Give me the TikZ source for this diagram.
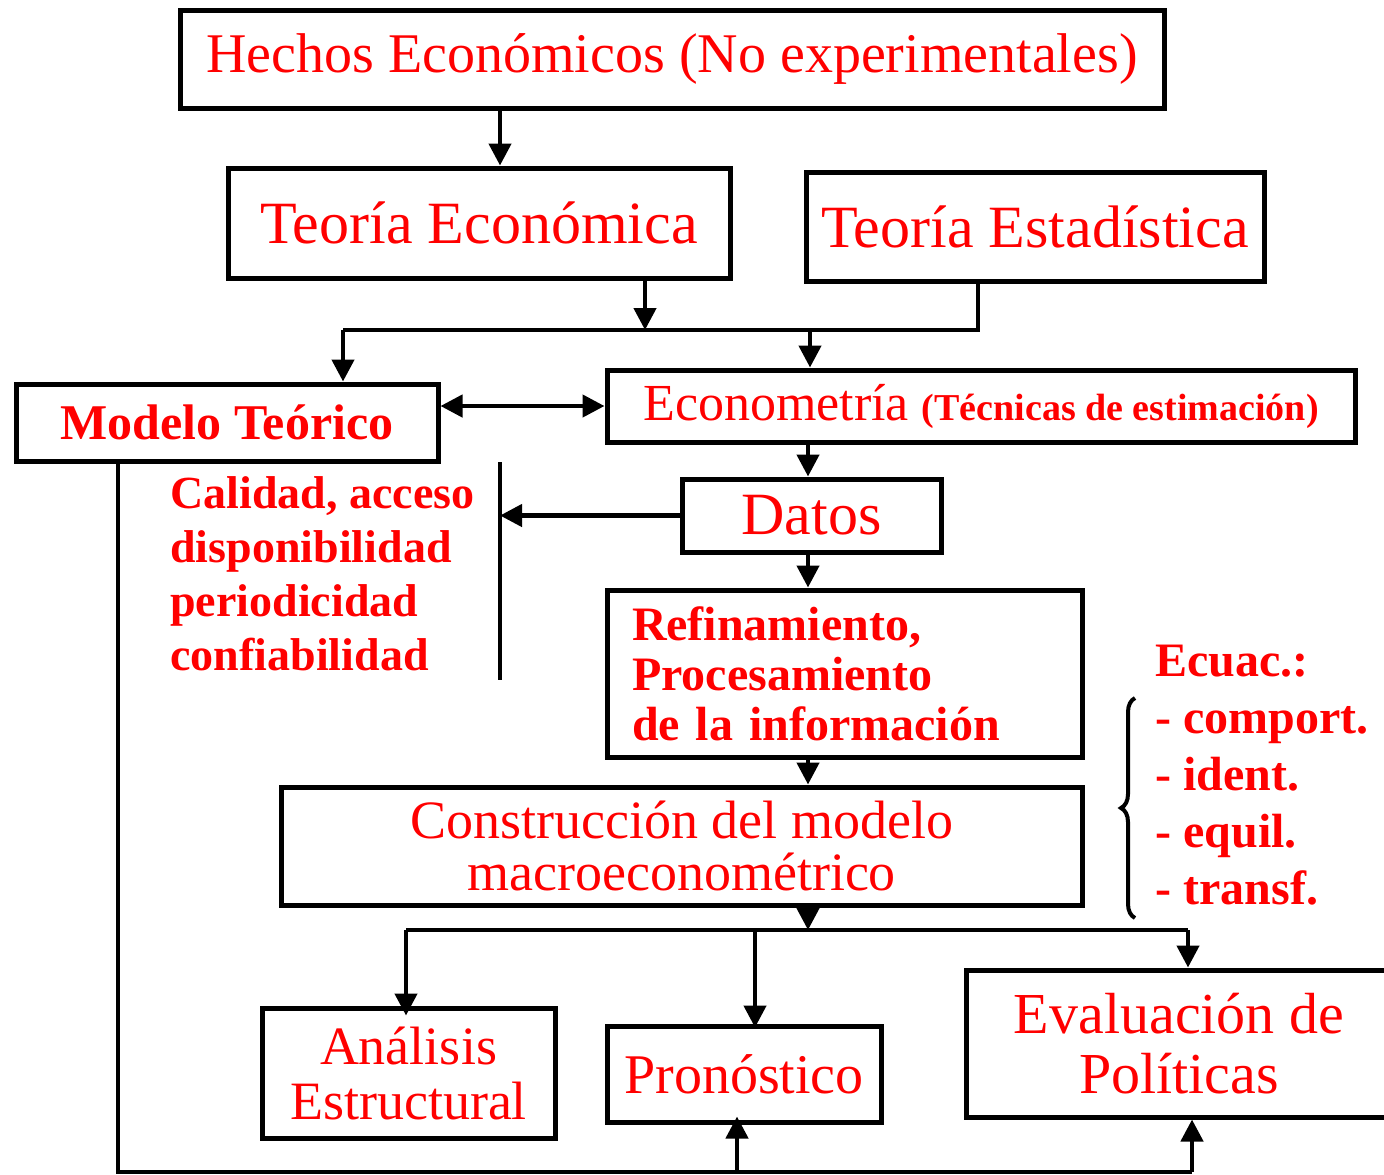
\documentclass[tikz,border=0pt]{standalone}
\usepackage{fontspec}
\setmainfont{Liberation Serif}
\usetikzlibrary{arrows.meta,decorations.pathreplacing}

\tikzset{
  box/.style={draw, line width=2.5pt, text=red, inner sep=0pt, align=center},
  conn/.style={line width=2.2pt},
  arr/.style={conn, -{Triangle[length=11pt,width=11pt]}},
  dblarr/.style={conn, {Triangle[length=11pt,width=11pt]}-{Triangle[length=11pt,width=11pt]}},
  redtext/.style={text=red, inner sep=0pt, align=left}
}

\begin{document}
\begin{tikzpicture}[x=0.5pt,y=0.5pt,yscale=-1]
\useasboundingbox (0,0) rectangle (1384,1174);

%Shape: Rectangle [hechos]
\draw (672,59) node [box, minimum width=492pt, minimum height=49pt, font=\fontsize{28}{30}\selectfont] (hechos) {Hechos Económicos (No experimentales)};
%Shape: Rectangle [teorias]
\draw (479,223) node [box, minimum width=251pt, minimum height=55pt, font=\fontsize{30}{32}\selectfont] (teoEco) {Teoría Económica};
\draw (1035,226.5) node [box, minimum width=229pt, minimum height=54.5pt, font=\fontsize{30}{32}\selectfont] (teoEst) {Teoría Estadística};
%Shape: Rectangle [modelo, econometria]
\draw (227,422.5) node [box, minimum width=211pt, minimum height=38.5pt, font=\fontsize{25}{27}\selectfont\bfseries] (modelo) {Modelo Teórico};
\draw (981,406) node [box, minimum width=374pt, minimum height=36pt, font=\fontsize{26}{28}\selectfont] (econo) {Econometría {\fontsize{19}{21}\selectfont\bfseries(Técnicas de estimación)}};
%Shape: Rectangle [datos, refinamiento]
\draw (811.5,515.5) node [box, minimum width=129.5pt, minimum height=36.5pt, font=\fontsize{30}{32}\selectfont] (datos) {Datos};
\draw (844.5,673.5) node [box, align=left, minimum width=237.5pt, minimum height=83.5pt, inner xsep=12.5pt, text width=212.5pt, font=\fontsize{24}{25}\selectfont\bfseries] (refin) {Refinamiento,\\Procesamiento\\de la información};
%Shape: Rectangle [construccion]
\draw (681.5,846) node [box, minimum width=400.5pt, minimum height=59pt, font=\fontsize{27}{26}\selectfont] (constr) {Construcción del modelo\\macroeconométrico};
%Shape: Rectangle [salidas]
\draw (408.5,1073) node [box, minimum width=146.5pt, minimum height=65pt, font=\fontsize{27}{27.5}\selectfont] (analisis) {Análisis\\Estructural};
\draw (744,1074) node [box, minimum width=137pt, minimum height=48pt, font=\fontsize{28}{30}\selectfont] (prono) {Pronóstico};
\draw (1179,1043.5) node [box, minimum width=213pt, minimum height=73.5pt, font=\fontsize{29}{30}\selectfont] (evalua) {Evaluación de\\Políticas};

% Text Node
\draw (170,476) node [redtext, anchor=north west, font=\fontsize{23}{27}\selectfont\bfseries] (calidad) {Calidad, acceso\\disponibilidad\\periodicidad\\confiabilidad};
% Text Node
\draw (1155,645) node [redtext, anchor=north west, font=\fontsize{24}{28.5}\selectfont\bfseries] (ecuac) {Ecuac.:\\- comport.\\- ident.\\- equil.\\- transf.};

%Straight Lines
\coordinate (jl) at (343,330);
\coordinate (jr) at (978,330);
\draw [arr] (hechos.south -| 500,0) -- (teoEco.north -| 500,0);
\draw [arr] (teoEco.south -| 645,0) -- (645,330);
\draw [conn] (teoEst.south -| jr) -- (jr) -- (jl);
\draw [arr] (jl) -- (modelo.north -| jl);
\draw [arr] (810,330) -- (econo.north -| 810,0);
\draw [dblarr] (econo.west) -- (modelo.east |- econo.west);
\draw [arr] (econo.south -| 808,0) -- (datos.north -| 808,0);

\coordinate (barT) at (500,462);
\coordinate (barB) at (500,680);
\draw [conn] (barT) -- (barB);
\draw [arr] (datos.west) -- (datos.west -| barT);

\draw [arr] (datos.south -| 808,0) -- (refin.north -| 808,0);
\draw [arr] (refin.south -| 808,0) -- (constr.north -| 808,0);

\coordinate (bl2) at (406,930);
\coordinate (br2) at (1188,930);
\draw [arr] (constr.south -| 808,0) -- (bl2 -| 808,0);
\draw [conn] (bl2) -- (br2);
\draw [arr] (bl2) -- ([yshift=5pt]analisis.north -| bl2);
\draw [arr] (755,930) -- ([yshift=2pt]prono.north -| 755,0);
\draw [arr] (br2) -- (evalua.north -| br2);

\coordinate (bl3) at (118,1172);
\coordinate (br3) at (1192,1172);
\draw [conn] (modelo.south -| bl3) -- (bl3) -- (br3);
\draw [arr] (737,1172) -- ([yshift=-4pt]prono.south -| 737,0);
\draw [arr] (br3) -- (evalua.south -| br3);

%Brace
\draw [line width=2pt, decorate, decoration={brace, amplitude=7pt}] (1135,918) -- (1135,698);

\end{tikzpicture}
\end{document}
